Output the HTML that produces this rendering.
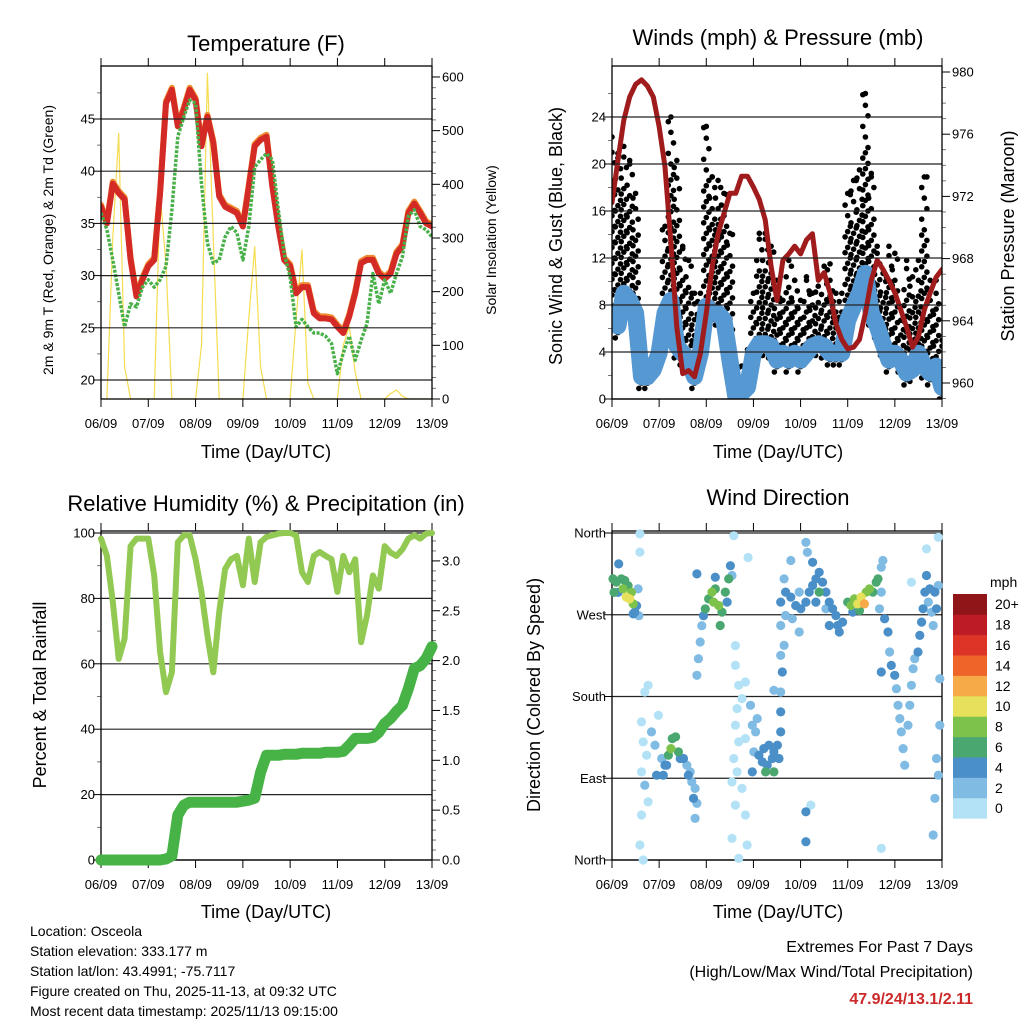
<!DOCTYPE html>
<html><head><meta charset="utf-8"><style>
html,body{margin:0;padding:0;background:#fff;}
svg{display:block;font-family:"Liberation Sans",Arial,sans-serif;}
</style></head><body>
<svg id="c" width="1024" height="1024" viewBox="0 0 1024 1024" xmlns="http://www.w3.org/2000/svg">
<text x="266" y="51" font-size="22" text-anchor="middle">Temperature (F)</text>
<text x="778" y="45" font-size="22" text-anchor="middle">Winds (mph) &amp; Pressure (mb)</text>
<text x="266" y="511" font-size="22" text-anchor="middle">Relative Humidity (%) &amp; Precipitation (in)</text>
<text x="778" y="505" font-size="22" text-anchor="middle">Wind Direction</text>
<text transform="translate(53,240) rotate(-90)" font-size="14" text-anchor="middle">2m &amp; 9m T (Red, Orange) &amp; 2m Td (Green)</text>
<text transform="translate(496,240) rotate(-90)" font-size="14" text-anchor="middle">Solar Insolation (Yellow)</text>
<text transform="translate(562,236) rotate(-90)" font-size="18" text-anchor="middle">Sonic Wind &amp; Gust (Blue, Black)</text>
<text transform="translate(1014,236) rotate(-90)" font-size="18" text-anchor="middle">Station Pressure (Maroon)</text>
<text transform="translate(46,695) rotate(-90)" font-size="18" text-anchor="middle">Percent &amp; Total Rainfall</text>
<text transform="translate(540,695) rotate(-90)" font-size="18" text-anchor="middle">Direction (Colored By Speed)</text>
<text x="266" y="458" font-size="18" text-anchor="middle">Time (Day/UTC)</text>
<text x="778" y="458" font-size="18" text-anchor="middle">Time (Day/UTC)</text>
<text x="266" y="918" font-size="18" text-anchor="middle">Time (Day/UTC)</text>
<text x="778" y="918" font-size="18" text-anchor="middle">Time (Day/UTC)</text>
<g font-size="14">
<text x="30" y="936">Location: Osceola</text>
<text x="30" y="956">Station elevation: 333.177 m</text>
<text x="30" y="976">Station lat/lon: 43.4991; -75.7117</text>
<text x="30" y="996">Figure created on Thu, 2025-11-13, at 09:32 UTC</text>
<text x="30" y="1016">Most recent data timestamp: 2025/11/13 09:15:00</text>
</g>
<text x="973" y="952" font-size="16" text-anchor="end">Extremes For Past 7 Days</text>
<text x="973" y="977" font-size="16" text-anchor="end">(High/Low/Max Wind/Total Precipitation)</text>
<text x="973" y="1004" font-size="16" font-weight="bold" fill="#cc2a2a" text-anchor="end">47.9/24/13.1/2.11</text>
</svg>
<script>
// ---- data (3-hourly samples from 06/09 00 UTC to 13/09 00 UTC) ----
const dayLabels = ["06/09","07/09","08/09","09/09","10/09","11/09","12/09","13/09"];
const temp = [36.6,35,38.8,37.9,37.3,31.5,28,29.6,30.9,31.5,37.9,46.5,47.8,44.3,45.9,47.8,46.8,42.4,45.2,42.7,37.6,36.6,36.3,36,34.7,38.5,42.4,43,43.3,38.5,34.7,31.5,30.9,28.3,28.9,28.9,26.4,25.9,25.9,25.8,25.1,24.5,26.1,28.3,31.2,31.5,31.5,30.2,29.7,30.2,32.1,32.8,36,36.9,36,35,34.7];
const dewpt = [36,34.4,31.5,28.3,25.1,27.3,27,28.9,29.6,28.9,29.6,30.9,36.3,43.3,45.2,46.8,46.5,38.8,33.1,31.2,31.5,33.7,34.7,34.1,31.5,34.7,40.4,41.1,41.7,41.1,36.3,32.1,29.9,25.1,25.8,25.1,24.5,24.5,24.2,23.5,20.6,22.6,24.2,21.9,23.8,25.4,30.2,27.3,29.6,28.3,30.2,31.8,35.7,36.3,34.7,34.4,33.7];
const solar = [0,0,300,495,60,0,0,0,0,0,383,250,0,0,0,0,0,100,607,300,0,0,0,0,0,150,284,60,0,0,0,0,0,150,278,30,0,0,0,0,0,100,135,50,0,0,0,0,0,10,17,5,0,0,0,0,0];
const wind = [6.7,6.2,9,8.4,7.3,1.9,1.9,2.5,3.9,7.3,8.4,4.5,3.9,3.3,1.9,3.9,7.9,7.3,7.3,6.7,3.3,0.2,0.5,1,3.9,4.7,4.7,4.5,3.3,3.9,3.3,3.9,3.3,3.9,4.5,4.7,4.5,3.9,3.9,3.9,6.7,7.9,9,10.7,7.3,6.2,4.7,3.3,3.9,3.3,2.2,2.5,3.9,2.8,2.2,2.8,1];
const gust = [22.3,20.9,21.5,20.3,17.5,4.2,3.3,3.9,6.7,14.7,24,20.3,13,11.8,9,9,23.2,18.9,18.6,17.5,14.1,2.8,2.8,4.2,9,14.1,14.1,13,10.1,8.4,11.8,10.1,8.4,10.4,9,9.6,11.3,11.5,9,9,17.5,18.6,19.5,26,19.2,13,10.7,13,12.4,6.7,11.8,10.4,11.8,18.9,10.1,10.1,5];
const pressure = [971.6,974.3,976.9,978.4,979.2,979.5,979.1,978.4,976.5,973.9,969,963.6,960.6,960.8,960.4,961.9,964.5,967.5,969.6,970.9,972.2,972.2,973.3,973.3,972.6,971.8,970.5,967.5,965.3,967.9,968.3,968.8,968.3,969.2,969.6,966.6,967.1,965.8,963.8,962.8,962.2,962.3,962.8,964.5,966.6,967.9,967.3,966.6,965.8,964.7,963.6,962.3,963,964.7,965.8,966.8,967.3];
const rh = [98.3,93,79,61.5,67.7,96,98.3,98.3,98.3,87,63.6,51.3,57.4,97.2,99.3,99.3,92,82,68.7,57.4,75.8,89,92,93,84,98.3,85,97.2,98.8,99.3,99.8,100,100,99.3,88,85,93,94.2,93,92,82,93,88,92,66.6,74.8,87,83,96,94,93,95,98.3,99.3,98.3,99.8,100];
const precip = [0,0,0,0,0,0,0,0,0,0,0,0.01,0.04,0.45,0.55,0.58,0.58,0.58,0.58,0.58,0.58,0.58,0.58,0.58,0.59,0.6,0.62,0.88,1.05,1.05,1.05,1.06,1.06,1.06,1.07,1.07,1.07,1.07,1.08,1.08,1.08,1.09,1.15,1.22,1.22,1.22,1.23,1.28,1.37,1.42,1.49,1.55,1.72,1.92,1.95,2.02,2.14];
// wind direction observations: hours since start, direction (deg), speed (mph)
const dirHour = [0.5,2.2,4.8,6.5,8.2,9.9,9.0,10.8,12.5,11.6,3.1,5.6,7.3,3.4,13.3,1.0,10.8,13.7,14.2,14.2,
18.4,16.7,15.0,23.6,20.1,15.9,17.6,21.9,25.3,15.0,16.7,18.4,15.0,14.2,15.9,22.7,27.0,26.1,
28.7,30.7,32.4,33.8,30.0,34.7,27.8,36.4,38.1,38.9,40.6,42.3,39.8,41.5,42.3,43.2,
43.2,44.0,44.9,45.7,46.6,47.5,49.2,50.9,52.6,54.3,56.0,55.1,57.7,59.4,60.3,61.1,43.2,52.6,51.7,58.6,62.0,62.8,69.3,
62.8,64.5,67.9,66.2,63.7,62.8,64.5,67.9,62.0,63.7,61.1,66.2,62.8,67.9,61.1,64.5,68.8,70.5,71.4,73.1,72.2,71.4,73.9,
74.8,77.3,79.9,82.4,85.0,76.5,79.0,81.6,84.2,78.2,82.4,85.9,85.9,85.9,86.7,85.9,87.6,85.9,82.4,
85.9,88.4,91.0,93.5,96.1,98.7,100.4,102.1,103.8,105.5,107.2,108.9,110.6,112.3,114.0,114.9,117.4,105.5,103.8,98.7,99.5,91.0,88.4,91.8,95.3,87.6,95.3,102.1,108.9,115.7,110.6,
120.0,121.7,123.4,125.1,126.8,128.5,129.4,131.1,132.8,134.5,135.4,122.6,126.0,137.1,137.9,137.1,136.2,
138.8,140.5,141.3,142.2,143.9,144.8,145.6,146.5,147.3,148.2,149.0,150.7,151.6,152.4,153.3,154.1,155.8,156.7,157.6,158.4,159.3,160.1,161.0,161.8,162.7,163.5,164.4,165.2,166.1,137.1,166.9,166.9,165.2,166.1,164.4,163.5,152.4,160.1,166.1,137.1,98.7,98.7,101.2];
const dirDeg = [309.5,306,309.5,307.7,302,294.6,287.5,282,280,273,294.6,298.5,289.4,326,298.5,294.6,271,269,359,339,
192.3,185,152,159.3,141,130,115.4,126.4,111.7,97,82.4,64,49.5,16.5,0,93.4,104.4,93.4,
115.4,133.7,135.5,119,122.7,111.7,104.4,111.7,104.4,93.4,86,78.8,97,67.8,45.8,62.3,
203.3,221.6,240,258,269,276.5,287.5,294.9,298.5,280.2,272.9,258.2,294.9,309.5,324,313.2,315,311.4,283.9,283.9,357,236,333,
214.3,192.3,196,177.7,166.7,148.4,130,133.7,111.7,97,86,78.8,60.4,49.5,23.8,1.8,16.5,170.3,148.4,141,119,97,155.7,
115.4,122.7,126.4,119,111.7,108,104.4,111.7,126.4,97,97,163,141,185,207,225.3,236.3,258.2,186.8,
283.9,294.9,289.4,280.2,276.6,283.9,294.9,302.2,309.5,316.8,305.9,294.9,283.9,276.6,269.2,258.2,261.9,294.9,283.9,349.8,338.8,329.7,269.2,265.6,251,309.5,294.9,327.8,276.6,251,258.2,
283.9,280.2,287.5,282,289.4,282,294.9,298.5,294.9,305.9,309.5,272.9,274.7,294.9,329.7,322.3,276.6,
265.6,251,229,214.3,203.3,188.6,170.3,155.7,141,122.7,104.4,148.4,170.3,192.3,210.6,221.6,229,247.3,261.9,276.6,294.9,313.2,283.9,298.5,272.9,258.2,294.9,276.6,302.2,207,199.6,148.4,111.7,93.4,67.8,27.5,305.9,342.5,355.3,12.8,53.1,20.1,60.4];
const dirSpeed = [7,7,6,7,6,8,10,8,4,4,4,8,10,4,3,6,4,2,0,0,
0,0,0,0,2,0,0,2,2,0,2,0,0,0,0,4,4,4,
6,6,7,6,8,4,4,4,3,4,3,3,2,4,2,2,
3,2,2,3,4,6,7,8,6,8,6,6,6,7,4,2,4,4,8,4,0,0,0,
0,0,0,0,0,0,0,0,0,0,0,0,0,0,0,0,0,2,2,2,2,4,2,
4,4,4,4,4,5,4,4,4,6,6,4,4,2,4,2,2,2,3,
4,4,4,4,4,4,4,4,4,4,4,4,4,4,4,4,4,6,4,2,2,2,2,2,2,2,2,4,2,4,4,
6,8,8,10,10,12,9,8,7,6,6,4,6,3,2,2,2,
4,4,3,4,4,3,2,2,2,2,2,2,2,2,2,2,4,4,4,4,4,4,2,4,2,2,4,4,2,4,2,2,2,2,2,2,0,0,0,0,4,4,0];
const colorBarLabels = ["0","2","4","6","8","10","12","14","16","18","20+"];
const speedColors = ["#b3e2f7","#80bbe4","#4a8fc8","#4aa76f","#7cc24b","#e6e05a","#f6aa48","#ef6429","#dc3527","#bd1c24","#8f1519"];

const NS="http://www.w3.org/2000/svg";
const svg=document.getElementById('c');
function mk(tag,attrs,parent){const e=document.createElementNS(NS,tag);for(const k in attrs)e.setAttribute(k,attrs[k]);(parent||svg).appendChild(e);return e;}
function txt(x,y,s,size,anchor,parent){const t=mk('text',{x:x,y:y,'font-size':size,'text-anchor':anchor},parent);t.textContent=s;return t;}
const HOURS=[];for(let i=0;i<57;i++)HOURS.push(i*3);

function panel(name,x0,x1,y0,y1){
  const g=mk('g',{});
  
  
  const xs=h=>x0+h*(x1-x0)/168;
  return {g,xs,x0,x1,y0,y1};
}
function frame(p,leftTicks,leftFmt,leftY,leftMinor,rightTicks,rightFmt,rightY,rightMinor,grid){
  const g=p.g;
  for(const v of leftTicks){const y=leftY(v);
    if(grid){const l=mk('line',{x1:p.x0,x2:p.x1,y1:y,y2:y,stroke:'#222','stroke-width':1.2},g);}
    mk('line',{x1:p.x0-8,x2:p.x0,y1:y,y2:y,stroke:'#000'},g);
    const t=txt(p.x0-6,y+4.5,leftFmt(v),13,'end',g);}
  for(const v of leftMinor){const y=leftY(v);mk('line',{x1:p.x0-4,x2:p.x0,y1:y,y2:y,stroke:'#555','stroke-width':0.8},g);}
  for(const v of rightTicks){const y=rightY(v);
    mk('line',{x1:p.x1,x2:p.x1+8,y1:y,y2:y,stroke:'#000'},g);
    const t=txt(p.x1+10,y+4.5,rightFmt(v),13,'start',g);}
  for(const v of rightMinor){const y=rightY(v);mk('line',{x1:p.x1,x2:p.x1+4,y1:y,y2:y,stroke:'#555','stroke-width':0.8},g);}
  dayLabels.forEach((d,i)=>{const x=p.xs(i*24);
    mk('line',{x1:x,x2:x,y1:p.y1,y2:p.y1+8,stroke:'#000'},g);
    mk('line',{x1:x,x2:x,y1:p.y0-8,y2:p.y0,stroke:'#000'},g);
    const t=txt(x,p.y1+29,d,13,'middle',g);});
  const r=mk('rect',{x:p.x0,y:p.y0,width:p.x1-p.x0,height:p.y1-p.y0,fill:'none',stroke:'#000','stroke-width':1.3},g);
  
}
function line(p,vals,yf,attrs,name){
  const pts=vals.map((v,i)=>p.xs(HOURS[i]).toFixed(1)+','+yf(v).toFixed(1)).join(' ');
  const a=Object.assign({points:pts,fill:'none','stroke-linejoin':'round','stroke-linecap':'round'},attrs);
  const e=mk('polyline',a,p.g);
  
  
  return e;
}
function range(a,b,s){const r=[];for(let v=a;v<=b+1e-9;v+=s)r.push(+v.toFixed(3));return r;}

// Panel 1: temperature
{
  const p=panel('temperature-panel',101,432,66,399);
  const yT=v=>380-(v-20)*10.44, yS=v=>399-v*0.5367;
  const clip=mk('clipPath',{id:'c1'},p.g);mk('rect',{x:101,y:66,width:331,height:333},clip);
  const cg=mk('g',{'clip-path':'url(#c1)'},p.g);
  const pp={g:cg,xs:p.xs};
  line(pp,solar,yS,{stroke:'#f6dc50','stroke-width':1.2},'solar-line');
  line(pp,temp,yT,{stroke:'#f08a30','stroke-width':6,transform:'translate(0,-2)'},'temp-9m-line');
  line(pp,temp,yT,{stroke:'#d42a26','stroke-width':6},'temp-2m-line');
  line(pp,dewpt,yT,{stroke:'#48b048','stroke-width':3.5,'stroke-dasharray':'3 1.5','stroke-linecap':'butt'},'dewpoint-line');
  frame(p,range(20,45,5),v=>String(v),yT,range(17.5,47.5,2.5).filter(v=>v%5!==0&&yT(v)>66&&yT(v)<399),range(0,600,100),v=>String(v),yS,range(0,600,20).filter(v=>v%100!==0),true);
}
// Panel 2: winds
{
  const p=panel('winds-panel',612,942,66,399);
  const yW=v=>399-v*11.75, yP=v=>383-(v-960)*15.55;
  const clip=mk('clipPath',{id:'c2'},p.g);mk('rect',{x:612,y:66,width:330,height:333},clip);
  const cg=mk('g',{'clip-path':'url(#c2)'},p.g);
  const pp={g:cg,xs:p.xs};
  frame(p,range(0,24,4),v=>String(v),yW,range(2,26,4),range(960,980,4),v=>String(v),yP,range(959,980,1).filter(v=>v%4!==0),true);
  const dg=mk('g',{fill:'#000'},cg);
  
  
  gust.forEach((gv,i)=>{const xc=p.xs(HOURS[i]);let k=0;
    for(let v=Math.max(0,wind[i]-1);v<=gv;v+=0.45,k++){
      const frac=(v-wind[i])/(gv-wind[i]+0.01);
      if(frac>0.7 && k%2===1) continue;
      mk('circle',{cx:(xc+((k%3)-1)*2.6).toFixed(1),cy:yW(v).toFixed(1),r:2.8},dg);
    }
    mk('circle',{cx:xc,cy:yW(gv),r:2.8},dg);
  });
  line(pp,wind,yW,{stroke:'#5698d2','stroke-width':17},'wind-speed-line');
  line(pp,pressure,yP,{stroke:'#a01c1c','stroke-width':5},'pressure-line');
}
// Panel 3: humidity & precip
{
  const p=panel('humidity-panel',101,432,531,860);
  const yR=v=>860-v*3.27, yPr=v=>860-v*99.7;
  frame(p,range(0,100,20),v=>String(v),yR,range(10,90,20),range(0,3,0.5),v=>v.toFixed(1),yPr,range(0,3.2,0.1).filter(v=>Math.abs(v*2-Math.round(v*2))>0.01),true);
  line(p,rh,yR,{stroke:'#92c952','stroke-width':6},'humidity-line');
  line(p,precip,yPr,{stroke:'#47b347','stroke-width':11},'precip-line');
}
// Panel 4: wind direction
{
  const p=panel('direction-panel',612,942,531,860);
  const yD=v=>860-v*0.9083;
  const names=["North","East","South","West","North"];
  frame(p,[0,90,180,270,360],v=>names[v/90],yD,[],[],v=>'',yD,[],true);
  const dg=mk('g',{},p.g);
  
  
  const order=dirHour.map((h,i)=>i).sort((a,b)=>dirSpeed[a]-dirSpeed[b]);
  for(const i of order){
    const ci=Math.min(10,Math.floor(dirSpeed[i]/2));
    const c=mk('circle',{cx:p.xs(dirHour[i]).toFixed(1),cy:yD(dirDeg[i]).toFixed(1),r:4.6,fill:speedColors[ci]},dg);
    
    
  }
  const cb=mk('g',{},svg);
  
  
  const bh=20.4, top=594;
  colorBarLabels.forEach((lab,i)=>{
    const j=10-i; const y=top+j*bh;
    const r=mk('rect',{x:953,y:y.toFixed(1),width:34,height:(bh+0.3).toFixed(1),fill:speedColors[i]},cb);
    
    
    const t=txt(995,y+bh/2+5,lab,14,'start',cb);
    
    
  });
  const m=txt(990,587,'mph',14,'start',cb);
  
  
}
</script>
</body></html>
